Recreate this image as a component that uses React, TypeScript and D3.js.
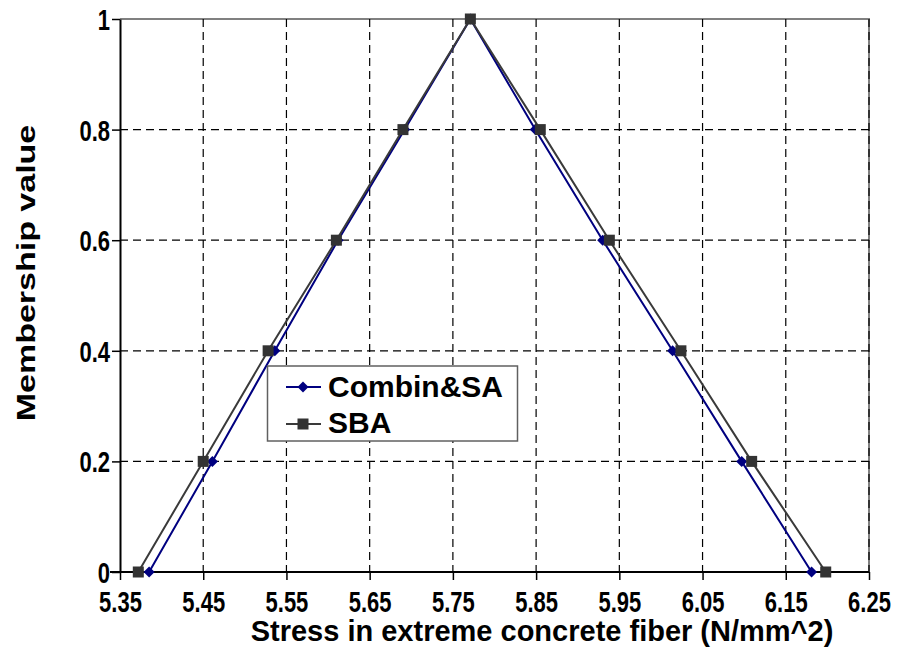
import * as d3 from 'd3';
import { useEffect, useRef } from 'react';

const membership = [0, 0.2, 0.4, 0.6, 0.8, 1, 0.8, 0.6, 0.4, 0.2, 0];
const combinStress = [5.385, 5.461, 5.536, 5.612, 5.692, 5.771, 5.849, 5.93, 6.014, 6.097, 6.181];
const sbaStress = [5.372, 5.45, 5.528, 5.61, 5.69, 5.771, 5.855, 5.938, 6.024, 6.109, 6.198];
const xTicks = [5.35, 5.45, 5.55, 5.65, 5.75, 5.85, 5.95, 6.05, 6.15, 6.25];
const yTicks = [0, 0.2, 0.4, 0.6, 0.8, 1];
const seriesNames = ['Combin&SA', 'SBA'];

const W = 903;
const H = 669;
const FONT = 'Liberation Sans, Arial, sans-serif';
const STRETCH = 1.33; // text in the original is drawn tall (vertical stretch)

const diamondPath = 'M0,-5.5L5.5,0L0,5.5L-5.5,0Z';

const App = () => {
  const svgRef = useRef<SVGSVGElement>(null);

  useEffect(() => {
    const svg = d3.select(svgRef.current);
    svg.selectAll('*').remove();

    const x = d3.scaleLinear().domain([5.35, 6.25]).range([120, 869]);
    const y = d3.scaleLinear().domain([0, 1]).range([572, 19]);

    svg.append('rect').attr('width', W).attr('height', H).attr('fill', '#fff');

    // plot border (top / right in gray)
    svg
      .append('path')
      .attr('d', `M${x(5.35)},${y(1)}H${x(6.25)}V${y(0)}`)
      .attr('fill', 'none')
      .attr('stroke', '#808080')
      .attr('stroke-width', 2);

    // grid
    const grid = svg.append('g').attr('stroke', '#000').attr('stroke-width', 1.2).attr('stroke-dasharray', '8,5');
    grid
      .selectAll('.gx')
      .data(xTicks.slice(1))
      .join('line')
      .attr('x1', (d) => x(d))
      .attr('x2', (d) => x(d))
      .attr('y1', y(1))
      .attr('y2', y(0));
    grid
      .selectAll('.gy')
      .data(yTicks.slice(1, -1))
      .join('line')
      .attr('x1', x(5.35))
      .attr('x2', x(6.25))
      .attr('y1', (d) => y(d))
      .attr('y2', (d) => y(d));

    // axes
    const xAxis = svg
      .append('g')
      .attr('transform', `translate(0,${y(0)})`)
      .call(d3.axisBottom(x).tickValues(xTicks).tickSize(8).tickSizeOuter(0).tickFormat(d3.format('.2f')));
    const yAxis = svg
      .append('g')
      .attr('transform', `translate(${x(5.35)},0)`)
      .call(d3.axisLeft(y).tickValues(yTicks).tickSize(8).tickSizeOuter(0).tickFormat((d) => String(d)));
    [xAxis, yAxis].forEach((g) => {
      g.select('.domain').attr('stroke', '#000').attr('stroke-width', 2);
      g.selectAll('.tick line').attr('stroke', '#000').attr('stroke-width', 1.5);
      g.selectAll('.tick text')
        .attr('fill', '#000')
        .attr('dy', 0)
        .attr('transform', `scale(1,${STRETCH})`)
        .style('font-family', FONT)
        .style('font-weight', 'bold')
        .style('font-size', '22px');
    });
    xAxis.select('.domain').attr('d', `M${x(5.35) - 10},0H${x(6.25)}`);
    xAxis.selectAll('.tick text').attr('y', 40 / STRETCH);
    yAxis.selectAll('.tick text').attr('x', -10).attr('y', 10.5 / STRETCH);

    const line = d3
      .line<[number, number]>()
      .x((d) => x(d[0]))
      .y((d) => y(d[1]));

    const combin: [number, number][] = combinStress.map((s, i) => [s, membership[i]]);
    const sba: [number, number][] = sbaStress.map((s, i) => [s, membership[i]]);

    svg.append('path').attr('d', line(combin)).attr('fill', 'none').attr('stroke', '#000080').attr('stroke-width', 2);
    svg
      .selectAll('.cm')
      .data(combin)
      .join('path')
      .attr('transform', (d) => `translate(${x(d[0])},${y(d[1])})`)
      .attr('d', diamondPath)
      .attr('fill', '#000080');

    svg.append('path').attr('d', line(sba)).attr('fill', 'none').attr('stroke', '#3a3a3a').attr('stroke-width', 2);
    svg
      .selectAll('.sm')
      .data(sba)
      .join('rect')
      .attr('x', (d) => x(d[0]) - 5.5)
      .attr('y', (d) => y(d[1]) - 5.5)
      .attr('width', 11)
      .attr('height', 11)
      .attr('fill', '#333');

    // legend
    const lg = svg.append('g');
    lg.append('rect')
      .attr('x', 267.5)
      .attr('y', 366)
      .attr('width', 250)
      .attr('height', 75)
      .attr('fill', '#fff')
      .attr('stroke', '#606060')
      .attr('stroke-width', 1.5);
    const rows = [
      { name: seriesNames[0], color: '#000080', cy: 387, base: 397 },
      { name: seriesNames[1], color: '#3a3a3a', cy: 424, base: 433 },
    ];
    rows.forEach((r, i) => {
      lg.append('line').attr('x1', 286).attr('x2', 321).attr('y1', r.cy).attr('y2', r.cy).attr('stroke', r.color).attr('stroke-width', 2);
      if (i === 0) {
        lg.append('path').attr('transform', `translate(303,${r.cy})`).attr('d', diamondPath).attr('fill', r.color);
      } else {
        lg.append('rect').attr('x', 297.5).attr('y', r.cy - 5.5).attr('width', 11).attr('height', 11).attr('fill', '#333');
      }
      lg.append('text')
        .attr('x', 328)
        .attr('y', r.base)
        .text(r.name)
        .style('font-family', FONT)
        .style('font-weight', 'bold')
        .style('font-size', '30px')
        .attr('fill', '#000');
    });

    // axis titles
    svg
      .append('text')
      .attr('x', 542)
      .attr('y', 641)
      .attr('text-anchor', 'middle')
      .text('Stress in extreme concrete fiber (N/mm^2)')
      .style('font-family', FONT)
      .style('font-weight', 'bold')
      .style('font-size', '29px');
    svg
      .append('text')
      .attr('transform', `translate(35,273) rotate(-90) scale(1.36,1)`)
      .attr('text-anchor', 'middle')
      .text('Membership value')
      .style('font-family', FONT)
      .style('font-weight', 'bold')
      .style('font-size', '25px');
  }, []);

  return (
    <div style={{ position: 'absolute', left: 0, top: 0 }}>
      <svg ref={svgRef} width={W} height={H} style={{ display: 'block' }}></svg>
    </div>
  );
};

export default App;
